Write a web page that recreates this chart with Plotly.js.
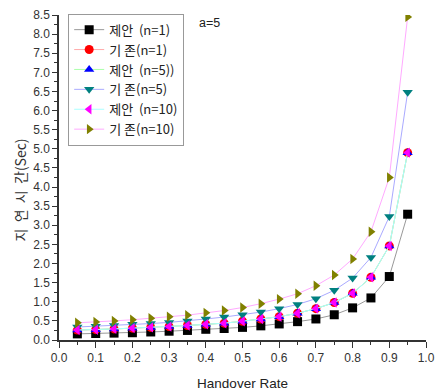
<!DOCTYPE html>
<html><head><meta charset="utf-8">
<script src="https://cdn.plot.ly/plotly-3.0.1.min.js"></script>
<style>body{margin:0;background:#fff}#c{width:436px;height:391px}</style>
</head><body><div id="c"></div>
<script>
const xRate = [0.05,0.1,0.15,0.2,0.25,0.3,0.35,0.4,0.45,0.5,0.55,0.6,0.65,0.7,0.75,0.8,0.85,0.9,0.95];
const propN1 = [0.16,0.17,0.18,0.19,0.21,0.23,0.25,0.28,0.30,0.33,0.37,0.42,0.48,0.55,0.66,0.84,1.10,1.66,3.29];
const baseN1 = [0.26,0.27,0.29,0.31,0.33,0.35,0.38,0.41,0.44,0.49,0.55,0.61,0.70,0.82,0.98,1.22,1.64,2.46,4.90];
const propN5 = [0.26,0.27,0.29,0.31,0.33,0.35,0.38,0.41,0.44,0.49,0.55,0.61,0.70,0.82,0.98,1.22,1.64,2.46,4.90];
const baseN5 = [0.34,0.36,0.38,0.41,0.43,0.46,0.50,0.55,0.60,0.66,0.73,0.82,0.93,1.08,1.30,1.62,2.16,3.23,6.48];
const propN10 = [0.26,0.27,0.29,0.31,0.33,0.35,0.38,0.41,0.44,0.49,0.55,0.61,0.70,0.82,0.98,1.22,1.64,2.46,4.90];
const baseN10 = [0.45,0.47,0.50,0.53,0.57,0.61,0.65,0.71,0.77,0.85,0.95,1.07,1.21,1.42,1.70,2.12,2.83,4.25,8.45];
const names = ['제안\u00a0\u00a0(n=1)','기 존(n=1)','제안\u00a0\u00a0(n=5))','기 존(n=5)','제안\u00a0\u00a0(n=10)','기 존(n=10)'];
const yTitle = '지\u00a0\u00a0연\u00a0\u00a0시\u00a0\u00a0간(Sec)';

const series = [
  {y: propN1, line:'#999999', mc:'#000000', sym:'square'},
  {y: baseN1, line:'#ffaaaa', mc:'#ff0000', sym:'circle'},
  {y: propN5, line:'#aaffaa', mc:'#0000ff', sym:'triangle-up'},
  {y: baseN5, line:'#aaaaff', mc:'#008080', sym:'triangle-down'},
  {y: propN10, line:'#aaffff', mc:'#ff00ff', sym:'triangle-left'},
  {y: baseN10, line:'#ffaaff', mc:'#808000', sym:'triangle-right'}
];
const traces = series.map((s,i)=>({
  x: xRate, y: s.y, name: names[i], type:'scatter', mode:'lines+markers',
  line:{color:s.line, width:1},
  marker:{symbol:s.sym, color:s.mc, size:9}
}));
const tickFont = {family:'Liberation Sans, Arial, sans-serif', size:12, color:'#333'};
const layout = {
  width:436, height:391,
  margin:{l:59, r:10, t:15, b:51},
  paper_bgcolor:'#fff', plot_bgcolor:'#fff',
  font:{family:'Liberation Sans, Arial, sans-serif', size:12, color:'#222'},
  showlegend:true,
  legend:{x:0.025, y:1.004, xanchor:'left', yanchor:'top', bordercolor:'#999', borderwidth:1,
    bgcolor:'#fff', font:{family:'Noto Sans CJK KR, Liberation Sans, sans-serif', size:13, color:'#222'},
    tracegroupgap:0, itemwidth:30},
  xaxis:{range:[0,1.0], dtick:0.1, tick0:0, tickformat:'.1f', showgrid:false, zeroline:false,
    showline:true, linecolor:'#333', linewidth:1.5, ticks:'outside', ticklen:6, tickcolor:'#333',
    tickfont:tickFont, minor:{dtick:0.05, ticks:'outside', ticklen:3, tickcolor:'#333'},
    title:{text:'Handover Rate', font:{family:'Liberation Sans, Arial, sans-serif', size:13.5, color:'#222'}, standoff:16}},
  yaxis:{range:[0,8.5], dtick:0.5, tick0:0, tickformat:'.1f', showgrid:false, zeroline:false,
    showline:true, linecolor:'#333', linewidth:1.5, ticks:'outside', ticklen:5, tickcolor:'#333',
    tickfont:tickFont, minor:{dtick:0.25, ticks:'outside', ticklen:3, tickcolor:'#333'}},
  annotations:[
    {text:'a=5', x:(197-59)/367, y:(340-22)/326, xref:'paper', yref:'paper', xanchor:'left', yanchor:'middle', showarrow:false,
      font:{family:'Liberation Sans, Arial, sans-serif', size:12.5, color:'#222'}},
    {text:yTitle, textangle:-90, x:(20-59)/367, y:(340-190)/326, xref:'paper', yref:'paper', xanchor:'center', yanchor:'middle', showarrow:false,
      font:{family:'Noto Sans CJK KR, Liberation Sans, sans-serif', size:14, color:'#333'}}
  ]
};
Plotly.newPlot('c', traces, layout, {displayModeBar:false});
</script></body></html>
